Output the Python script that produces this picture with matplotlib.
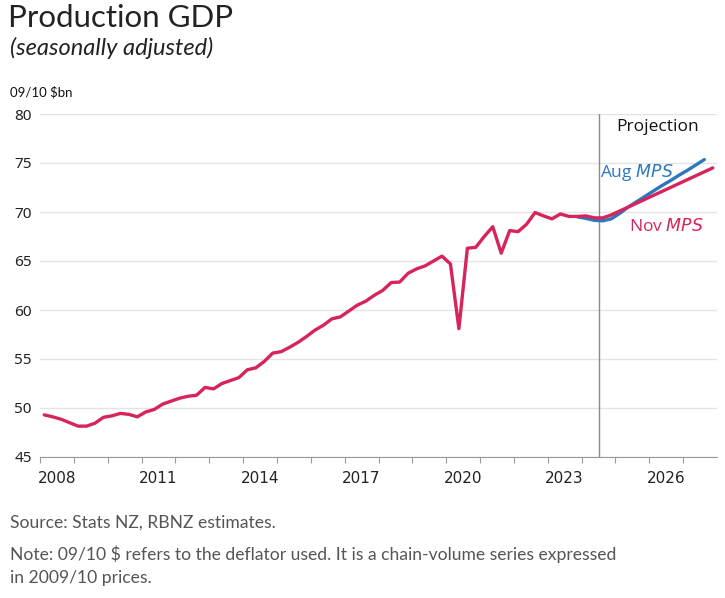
import numpy as np
import matplotlib
matplotlib.use('Agg')
import matplotlib.pyplot as plt

# quarterly history, 2008Q1 .. 2024Q2 (09/10 $bn)
hist = [49.3, 49.1, 48.85, 48.5,
        48.15, 48.15, 48.45, 49.05,
        49.2, 49.45, 49.35, 49.1,
        49.6, 49.85, 50.4, 50.7,
        51.0, 51.2, 51.3, 52.1,
        51.95, 52.5, 52.8, 53.1,
        53.9, 54.1, 54.75, 55.6,
        55.75, 56.2, 56.7, 57.3,
        57.95, 58.45, 59.1, 59.3,
        59.9, 60.5, 60.9, 61.5,
        62.0, 62.8, 62.85, 63.75,
        64.2, 64.5, 65.0, 65.5,
        64.7, 58.1, 66.3, 66.4,
        67.5, 68.5, 65.8, 68.1,
        68.0, 68.75, 69.95, 69.6,
        69.3, 69.8, 69.55, 69.55,
        69.6, 69.4]
# Nov MPS projection, 2024Q3 .. 2027Q4
nov_proj = [69.4, 69.7, 70.1, 70.5, 70.9, 71.3, 71.7, 72.1,
            72.5, 72.9, 73.3, 73.7, 74.1, 74.5]
# Aug MPS, 2023Q4 .. 2027Q3 (drawn under Nov)
aug_vals = [69.5, 69.35, 69.15, 69.1, 69.3, 69.85, 70.5, 71.05,
            71.6, 72.15, 72.7, 73.2, 73.75, 74.25, 74.8, 75.35]

nov = hist + nov_proj
t_nov = 2008.125 + 0.25 * np.arange(len(nov))
t_aug = 2023.875 + 0.25 * np.arange(len(aug_vals))

red = '#D7245B'
blue = '#2B78BE'

fig = plt.figure(figsize=(7.25, 5.98), dpi=100)
ax = fig.add_axes([40/725, 141/598, 677/725, 343/598])

ax.plot(t_aug, aug_vals, color=blue, lw=2.4, solid_capstyle='round', zorder=3)
ax.plot(t_nov, nov, color=red, lw=2.4, solid_capstyle='round', zorder=4)
ax.axvline(2024.5, color='#8a8a8a', lw=1, zorder=2)

ax.set_xlim(2008, 2028)
ax.set_ylim(45, 80)
ax.set_yticks(np.arange(45, 81, 5))
ax.grid(axis='y', color='#e4e4e4', lw=1)
ax.set_axisbelow(True)
for s in ['top', 'right', 'left']:
    ax.spines[s].set_visible(False)
ax.spines['bottom'].set_color('#9a9a9a')
ax.tick_params(axis='y', length=0, labelsize=11, labelcolor='#222222', pad=6)
ax.set_xticks(np.arange(2008, 2028))
ax.set_xticklabels([])
ax.tick_params(axis='x', which='major', length=4, color='#9a9a9a', direction='out')
for yr in range(2008, 2028, 3):
    ax.text(yr + 0.5, 43.6, str(yr), ha='center', va='top', fontsize=11, color='#222222')
for lab in ax.get_yticklabels():
    lab.set_family('Noto Sans')

ax.text(2026.25, 78.7, 'Projection', ha='center', va='center', fontsize=12.5,
        color='#111111', family='Open Sans')
ax.text(2024.55, 74.0, 'Aug $\\it{MPS}$', ha='left', va='center', fontsize=12.5,
        color=blue, family='Open Sans')
ax.text(2025.4, 68.5, 'Nov $\\it{MPS}$', ha='left', va='center', fontsize=12.5,
        color=red, family='Open Sans')

fig.text(8/725, 1 - 18/598, 'Production GDP', fontsize=22.5, family='Lato',
         color='#222222', va='center')
fig.text(10/725, 1 - 48/598, '(seasonally adjusted)', fontsize=17, family='Lato',
         style='italic', color='#222222', va='center')
fig.text(10/725, 1 - 92/598, '09/10 $bn', fontsize=9.5, family='Lato',
         color='#111111', va='center')
fig.text(10/725, 1 - 523/598, 'Source: Stats NZ, RBNZ estimates.', fontsize=12.6,
         family='Lato', color='#555555', va='center')
fig.text(10/725, 1 - 554/598,
         'Note: 09/10 $ refers to the deflator used. It is a chain-volume series expressed',
         fontsize=12.6, family='Lato', color='#555555', va='center')
fig.text(10/725, 1 - 578/598, 'in 2009/10 prices.', fontsize=12.6,
         family='Lato', color='#555555', va='center')

fig.savefig('out.png', dpi=100)
